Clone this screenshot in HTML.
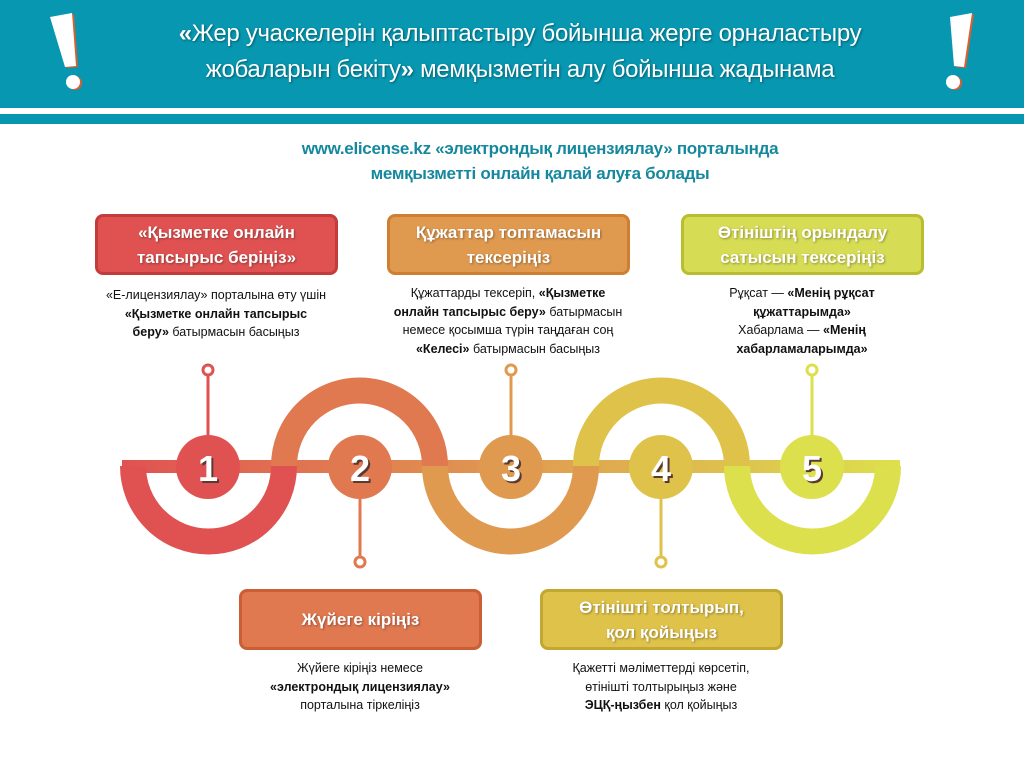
<!DOCTYPE html>
<html><head><meta charset="utf-8"><style>
*{margin:0;padding:0;box-sizing:border-box}
body{width:1024px;height:768px;position:relative;background:#fff;font-family:"Liberation Sans","DejaVu Sans",sans-serif;overflow:hidden}
.abs{position:absolute}
.title{left:120px;width:800px;top:16px;text-align:center;color:#fff;font-size:24px;line-height:36px;text-shadow:1px 1px 2px rgba(0,0,0,.4);letter-spacing:-0.3px}
.sub{left:200px;width:680px;top:136px;text-align:center;color:#16889e;font-size:17px;font-weight:bold;line-height:25px;letter-spacing:-0.3px}
.box{position:absolute;width:243px;height:61px;border-radius:8px;border:3px solid;display:flex;align-items:center;justify-content:center;text-align:center;color:#fff;font-weight:bold;font-size:17px;line-height:25px;text-shadow:1px 1px 2px rgba(0,0,0,.35)}
.desc{position:absolute;width:260px;text-align:center;font-size:12.5px;line-height:18.5px;color:#111}
</style></head><body>
<div class="abs" style="left:0;top:0;width:1024px;height:108px;background:#0797b1"></div>
<div class="abs" style="left:0;top:114px;width:1024px;height:10px;background:#0797b1"></div>
<svg class="abs" style="left:0;top:0" width="1024" height="110">
<polygon points="52,18 74,14 78,67 67,68" fill="#d9602e"/>
<polygon points="50,17 72,13 76,66 65,67" fill="#fff"/>
<circle cx="75" cy="83" r="7" fill="#d9602e"/><circle cx="73" cy="82" r="7" fill="#fff"/>
<polygon points="952,18 974,14 966,68 956,67" fill="#d9602e"/>
<polygon points="950,17 972,13 964,67 954,66" fill="#fff"/>
<circle cx="955" cy="83" r="7" fill="#d9602e"/><circle cx="953" cy="82" r="7" fill="#fff"/>
</svg>
<div class="abs title"><b>«</b>Жер учаскелерін қалыптастыру бойынша жерге орналастыру<br>жобаларын бекіту<b>»</b> мемқызметін алу бойынша жадынама</div>
<div class="abs sub">www.elicense.kz «электрондық лицензиялау» порталында<br>мемқызметті онлайн қалай алуға болады</div>

<svg class="abs" style="left:0;top:0" width="1024" height="768">
<defs><linearGradient id="g" x1="0" x2="1"><stop offset="0" stop-color="#e05252"/><stop offset=".5" stop-color="#e09a50"/><stop offset="1" stop-color="#dde04d"/></linearGradient></defs>
<rect x="122" y="460" width="778" height="13" fill="url(#g)"/>
<g fill="none" stroke-width="26">
<path d="M133,466 A75.5,75.5 0 0 0 284,466" stroke="#e05252"/>
<path d="M284,466 A75.5,75.5 0 0 1 435,466" stroke="#e07850"/>
<path d="M435,466 A75.5,75.5 0 0 0 586,466" stroke="#e09a50"/>
<path d="M586,466 A75.5,75.5 0 0 1 737,466" stroke="#dfc24a"/>
<path d="M737,466 A75.5,75.5 0 0 0 888,466" stroke="#dde04d"/>
</g>
<g stroke-width="3" fill="#fff">
<line x1="208" y1="375" x2="208" y2="440" stroke="#e05252"/><circle cx="208" cy="370" r="5" stroke="#e05252"/>
<line x1="360" y1="495" x2="360" y2="557" stroke="#e07850"/><circle cx="360" cy="562" r="5" stroke="#e07850"/>
<line x1="511" y1="375" x2="511" y2="440" stroke="#e09a50"/><circle cx="511" cy="370" r="5" stroke="#e09a50"/>
<line x1="661" y1="495" x2="661" y2="557" stroke="#dfc24a"/><circle cx="661" cy="562" r="5" stroke="#dfc24a"/>
<line x1="812" y1="375" x2="812" y2="440" stroke="#dde04d"/><circle cx="812" cy="370" r="5" stroke="#dde04d"/>
</g>
<circle cx="208" cy="467" r="32" fill="#e05252"/>
<circle cx="360" cy="467" r="32" fill="#e07850"/>
<circle cx="511" cy="467" r="32" fill="#e09a50"/>
<circle cx="661" cy="467" r="32" fill="#dfc24a"/>
<circle cx="812" cy="467" r="32" fill="#dde04d"/>
<g font-family="Liberation Sans, sans-serif" font-weight="bold" font-size="36" text-anchor="middle">
<g fill="#5a3a30"><text x="210" y="483">1</text><text x="362" y="483">2</text><text x="513" y="483">3</text><text x="663" y="483">4</text><text x="814" y="483">5</text></g>
<g fill="#fff"><text x="208" y="481">1</text><text x="360" y="481">2</text><text x="511" y="481">3</text><text x="661" y="481">4</text><text x="812" y="481">5</text></g>
</g>
</svg>

<div class="box" style="left:95px;top:214px;background:#e05252;border-color:#c33c3c">«Қызметке онлайн<br>тапсырыс беріңіз»</div>
<div class="box" style="left:387px;top:214px;background:#e09a50;border-color:#d07f32">Құжаттар топтамасын<br>тексеріңіз</div>
<div class="box" style="left:681px;top:214px;background:#d7dc55;border-color:#b8be30">Өтініштің орындалу<br>сатысын тексеріңіз</div>
<div class="box" style="left:239px;top:589px;background:#e07850;border-color:#cc5e34">Жүйеге кіріңіз</div>
<div class="box" style="left:540px;top:589px;background:#dfc24a;border-color:#c2a830">Өтінішті толтырып,<br>қол қойыңыз</div>

<div class="desc" style="left:86px;top:286px">«Е-лицензиялау» порталына өту үшін<br><b>«Қызметке онлайн тапсырыс<br>беру»</b> батырмасын басыңыз</div>
<div class="desc" style="left:378px;top:284px">Құжаттарды тексеріп, <b>«Қызметке<br>онлайн тапсырыс беру»</b> батырмасын<br>немесе қосымша түрін таңдаған соң<br><b>«Келесі»</b> батырмасын басыңыз</div>
<div class="desc" style="left:672px;top:284px">Рұқсат — <b>«Менің рұқсат<br>құжаттарымда»</b><br>Хабарлама — <b>«Менің<br>хабарламаларымда»</b></div>
<div class="desc" style="left:230px;top:659px">Жүйеге кіріңіз немесе<br><b>«электрондық лицензиялау»</b><br>порталына тіркеліңіз</div>
<div class="desc" style="left:531px;top:659px">Қажетті мәліметтерді көрсетіп,<br>өтінішті толтырыңыз және<br><b>ЭЦҚ-ңызбен</b> қол қойыңыз</div>
</body></html>
